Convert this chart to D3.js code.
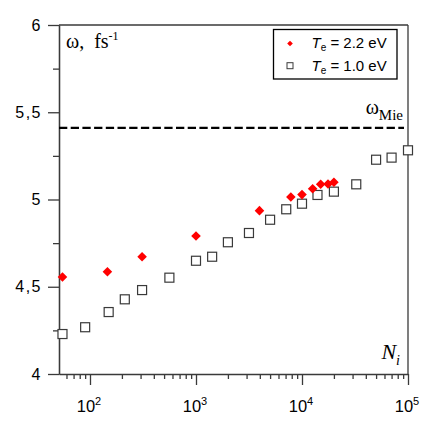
<!DOCTYPE html>
<meta charset="utf-8">
<style>
  body { margin: 0; background: #fff; }
  .axis path, .axis line { stroke: #3a3a3a; stroke-width: 1.3px; }
  .axis text { font-family: "Liberation Sans", Arial, sans-serif; font-size: 16px; fill: #000; }
  .serif { font-family: "Liberation Serif", "Times New Roman", serif; }
  .sans { font-family: "Liberation Sans", Arial, sans-serif; }
</style>
<body>
<script src="https://d3js.org/d3.v7.min.js"></script>
<script>
// red diamonds, Te = 2.2 eV
var nHot = [55, 146, 310, 1000, 3970, 7850, 10000, 12600, 15000, 17600, 20000];
var wHot = [4.556, 4.586, 4.672, 4.791, 4.936, 5.014, 5.028, 5.062, 5.087, 5.089, 5.099];
// open squares, Te = 1.0 eV
var nCold = [55, 90, 150, 213, 310, 561, 1000, 1420, 2000, 3160, 5000, 7100, 10000, 14000, 20000, 32500, 50000, 70000, 100000];
var wCold = [4.229, 4.268, 4.355, 4.428, 4.481, 4.552, 4.649, 4.672, 4.755, 4.808, 4.884, 4.944, 4.976, 5.026, 5.045, 5.087, 5.228, 5.240, 5.282];
var wMie = 5.41;
var xMajor = [100, 1000, 10000, 100000];
var xExp = ["2", "3", "4", "5"];
var yMajor = [4, 4.5, 5, 5.5, 6];
var yMinor = [4.25, 4.75, 5.25, 5.75];

var margin = {top: 25, right: 28, bottom: 56, left: 59};
var width = 436, height = 430;
var w = width - margin.left - margin.right,
    h = height - margin.top - margin.bottom;

var svg = d3.select("body").append("svg")
    .attr("width", width)
    .attr("height", height);

var g = svg.append("g")
    .attr("transform", "translate(" + margin.left + "," + margin.top + ")");

var x = d3.scaleLog().domain([51, 100000]).range([0, w]);
var y = d3.scaleLinear().domain([4, 6]).range([h, 0]);

// minor ticks on x (2..9 x 10^k)
var xMinor = [];
[10, 100, 1000, 10000].forEach(function(p) {
  for (var k = 2; k <= 9; k++) {
    var v = k * p;
    if (v > 51 && v < 100000) xMinor.push(v);
  }
});

g.append("g").attr("class", "axis")
  .attr("transform", "translate(0," + h + ")")
  .call(d3.axisBottom(x).tickValues(xMinor).tickSize(5).tickSizeOuter(0).tickFormat(""));

var xAxis = g.append("g").attr("class", "axis")
  .attr("transform", "translate(0," + h + ")")
  .call(d3.axisBottom(x).tickValues(xMajor).tickSize(11).tickSizeOuter(0).tickFormat(""));
xAxis.select(".domain").remove();

var xl = g.append("g").selectAll("text")
  .data(xMajor)
  .enter().append("text")
  .attr("class", "sans")
  .attr("x", function(d) { return x(d) - 1; })
  .attr("y", h + 37.5)
  .attr("text-anchor", "middle")
  .style("font-size", "16.5px");
xl.append("tspan").text("10");
xl.append("tspan").attr("dy", -7).style("font-size", "11px")
  .text(function(d, i) { return xExp[i]; });

g.append("g").attr("class", "axis")
  .call(d3.axisLeft(y).tickValues(yMinor).tickSize(6).tickSizeOuter(0).tickFormat(""));

g.append("g").attr("class", "axis")
  .call(d3.axisLeft(y).tickValues(yMajor).tickSize(11).tickSizeOuter(0).tickPadding(6)
    .tickFormat(function(d) { return String(d).replace(".", ","); }))
  .selectAll("text").style("letter-spacing", "1.5px");

// frame: top and right
g.append("line").attr("x1", 0).attr("x2", w).attr("y1", 0).attr("y2", 0)
  .attr("stroke", "#3a3a3a").attr("stroke-width", 1.3);
g.append("line").attr("x1", w).attr("x2", w).attr("y1", 0).attr("y2", h)
  .attr("stroke", "#3a3a3a").attr("stroke-width", 1.3);

// Mie line
g.append("line")
  .attr("x1", 0).attr("x2", w - 4)
  .attr("y1", y(wMie)).attr("y2", y(wMie))
  .attr("stroke", "#000").attr("stroke-width", 2.3)
  .attr("stroke-dasharray", "8.3,3.4");

var mie = g.append("text").attr("class", "serif")
  .attr("x", w - 5).attr("y", y(wMie) - 14)
  .attr("text-anchor", "end")
  .style("font-size", "20px");
mie.append("tspan").text("ω");
mie.append("tspan").attr("dy", 6).style("font-size", "15px").text("Mie");

// squares
var sq = 9;
g.append("g").selectAll("rect")
  .data(nCold)
  .enter().append("rect")
  .attr("x", function(d) { return x(d) - sq / 2; })
  .attr("y", function(d, i) { return y(wCold[i]) - sq / 2; })
  .attr("width", sq).attr("height", sq)
  .attr("fill", "#fff")
  .attr("stroke", "#3a3a3a")
  .attr("stroke-width", 1.2);

// diamonds
var diamond = d3.symbol().type(d3.symbolSquare).size(46);
g.append("g").selectAll("path")
  .data(nHot)
  .enter().append("path")
  .attr("d", diamond)
  .attr("transform", function(d, i) {
    return "translate(" + x(d) + "," + y(wHot[i]) + ") rotate(45)";
  })
  .attr("fill", "#ff0000");

// y label
var yl = g.append("text").attr("class", "serif")
  .attr("x", 7).attr("y", 23)
  .style("font-size", "20px")
  .style("white-space", "pre");
yl.append("tspan").text("ω,  fs");
yl.append("tspan").attr("dy", -8).style("font-size", "12px").text("-1");

// x label
var nl = g.append("text").attr("class", "serif")
  .attr("x", w - 8).attr("y", h - 15)
  .attr("text-anchor", "end")
  .style("font-size", "22px").style("font-style", "italic");
nl.append("tspan").text("N");
nl.append("tspan").attr("dy", 6).style("font-size", "14px").text("i");

// legend
var lg = g.append("g").attr("transform", "translate(" + (273.5 - margin.left) + "," + (29.5 - margin.top) + ")");
lg.append("rect")
  .attr("width", 123.5).attr("height", 49.5)
  .attr("fill", "#fff").attr("stroke", "#000").attr("stroke-width", 1.3);
lg.append("path")
  .attr("d", d3.symbol().type(d3.symbolSquare).size(16))
  .attr("transform", "translate(16.5,14) rotate(45)")
  .attr("fill", "#ff0000");
lg.append("rect")
  .attr("x", 13.5).attr("y", 33.2).attr("width", 6).attr("height", 6)
  .attr("fill", "#fff").attr("stroke", "#3a3a3a").attr("stroke-width", 1);

var labels = ["= 2.2 eV", "= 1.0 eV"];
labels.forEach(function(t, i) {
  var tx = lg.append("text").attr("class", "sans")
    .attr("x", 38).attr("y", 18.5 + i * 22.5)
    .style("font-size", "15px");
  tx.append("tspan").style("font-style", "italic").text("T");
  tx.append("tspan").attr("dy", 3).style("font-size", "10px").text("e");
  tx.append("tspan").attr("dy", -3).text(" " + t);
});
</script>
</body>
